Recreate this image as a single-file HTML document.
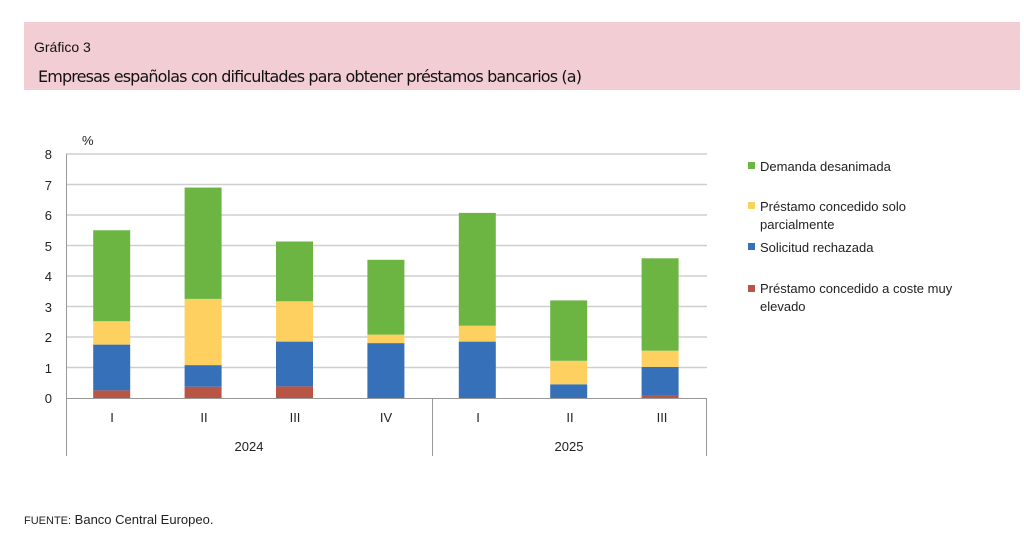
<!DOCTYPE html>
<html><head><meta charset="utf-8"><style>
body{margin:0;width:1024px;height:529px;background:#fff;overflow:hidden;font-family:"Liberation Sans",sans-serif;}
</style></head><body>
<svg width="1024" height="529" xmlns="http://www.w3.org/2000/svg" font-family="Liberation Sans, sans-serif">
<rect x="24" y="22" width="996" height="68" fill="#f2cdd3"/>
<text x="34" y="52" font-size="14" fill="#111">Gráfico 3</text>
<text x="38" y="82" font-size="16" fill="#111" font-family="DejaVu Sans, sans-serif" textLength="544">Empresas españolas con dificultades para obtener préstamos bancarios (a)</text>
<text x="82" y="145" font-size="13" fill="#222">%</text>
<g stroke="#cfcfcf" stroke-width="1.5">
<line x1="66" x2="707" y1="154" y2="154"/><line x1="66" x2="707" y1="184.5" y2="184.5"/>
<line x1="66" x2="707" y1="215" y2="215"/><line x1="66" x2="707" y1="245.5" y2="245.5"/>
<line x1="66" x2="707" y1="276" y2="276"/><line x1="66" x2="707" y1="306.5" y2="306.5"/>
<line x1="66" x2="707" y1="337" y2="337"/><line x1="66" x2="707" y1="367.5" y2="367.5"/>
</g>
<g font-size="13" fill="#222" text-anchor="end">
<text x="52" y="403">0</text><text x="52" y="373">1</text><text x="52" y="342">2</text><text x="52" y="312">3</text>
<text x="52" y="281">4</text><text x="52" y="251">5</text><text x="52" y="220">6</text><text x="52" y="190">7</text><text x="52" y="159">8</text>
</g>
<g>
<rect x="93.2" y="390.4" width="37" height="7.6" fill="#b85545"/>
<rect x="93.2" y="344.6" width="37" height="45.8" fill="#3670b8"/>
<rect x="93.2" y="321.1" width="37" height="23.5" fill="#fdd060"/>
<rect x="93.2" y="230.25" width="37" height="90.9" fill="#6db543"/>

<rect x="184.6" y="386.7" width="37" height="11.3" fill="#b85545"/>
<rect x="184.6" y="365.1" width="37" height="21.6" fill="#3670b8"/>
<rect x="184.6" y="298.9" width="37" height="66.2" fill="#fdd060"/>
<rect x="184.6" y="187.55" width="37" height="111.35" fill="#6db543"/>

<rect x="276" y="386.4" width="37" height="11.6" fill="#b85545"/>
<rect x="276" y="341.6" width="37" height="44.8" fill="#3670b8"/>
<rect x="276" y="301.3" width="37" height="40.3" fill="#fdd060"/>
<rect x="276" y="241.5" width="37" height="59.8" fill="#6db543"/>

<rect x="367.4" y="343.1" width="37" height="54.9" fill="#3670b8"/>
<rect x="367.4" y="334.6" width="37" height="8.5" fill="#fdd060"/>
<rect x="367.4" y="259.8" width="37" height="74.8" fill="#6db543"/>

<rect x="458.8" y="341.6" width="37" height="56.4" fill="#3670b8"/>
<rect x="458.8" y="325.7" width="37" height="15.9" fill="#fdd060"/>
<rect x="458.8" y="212.9" width="37" height="112.8" fill="#6db543"/>

<rect x="550.2" y="384.3" width="37" height="13.7" fill="#3670b8"/>
<rect x="550.2" y="360.8" width="37" height="23.5" fill="#fdd060"/>
<rect x="550.2" y="300.4" width="37" height="60.4" fill="#6db543"/>

<rect x="641.6" y="395.9" width="37" height="2.1" fill="#b85545"/>
<rect x="641.6" y="366.9" width="37" height="29" fill="#3670b8"/>
<rect x="641.6" y="350.7" width="37" height="16.2" fill="#fdd060"/>
<rect x="641.6" y="258.3" width="37" height="92.4" fill="#6db543"/>
</g>
<g stroke="#999" stroke-width="1">
<line x1="66.5" y1="154" x2="66.5" y2="456"/><line x1="432.5" y1="398" x2="432.5" y2="456"/><line x1="706.5" y1="398" x2="706.5" y2="456"/>
<line x1="66" y1="398.5" x2="707" y2="398.5"/>
</g>
<g font-size="13" fill="#222" text-anchor="middle">
<text x="112" y="422">I</text><text x="204" y="422">II</text><text x="295" y="422">III</text><text x="386" y="422">IV</text>
<text x="478" y="422">I</text><text x="570" y="422">II</text><text x="662" y="422">III</text>
<text x="249" y="451">2024</text><text x="569" y="451">2025</text>
</g>
<g font-size="13" fill="#222">
<rect x="748" y="162" width="7" height="7" fill="#6db543"/><text x="760" y="171">Demanda desanimada</text>
<rect x="748" y="202" width="7" height="7" fill="#fdd060"/><text x="760" y="211">Préstamo concedido solo</text><text x="760" y="229">parcialmente</text>
<rect x="748" y="243" width="7" height="7" fill="#3670b8"/><text x="760" y="252">Solicitud rechazada</text>
<rect x="748" y="285" width="7" height="7" fill="#b85545"/><text x="760" y="293">Préstamo concedido a coste muy</text><text x="760" y="311">elevado</text>
</g>
<text x="24" y="524" font-size="13" fill="#222"><tspan font-size="11">FUENTE:</tspan> Banco Central Europeo.</text>
</svg>
</body></html>
